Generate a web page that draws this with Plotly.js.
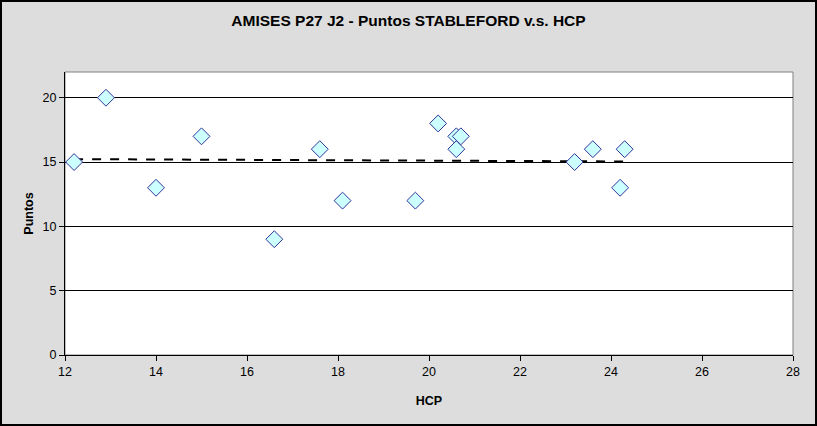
<!DOCTYPE html>
<html><head><meta charset="utf-8">
<script src="https://cdn.plot.ly/plotly-3.0.1.min.js"></script>
<style>
html,body{margin:0;padding:0;background:#dddddd;}
#wrap{width:817px;height:426px;box-sizing:border-box;border:2px solid #000;background:#dddddd;}
#chart{width:813px;height:422px;}
</style></head>
<body><div id="wrap"><div id="chart"></div></div>
<script>
const hcp = [12.2, 12.9, 14.0, 15.0, 16.6, 17.6, 18.1, 19.7, 20.2, 20.6, 20.7, 20.6, 23.2, 23.6, 24.2, 24.3];
const puntos = [15, 20, 13, 17, 9, 16, 12, 12, 18, 17, 17, 16, 15, 16, 13, 16];
const titleText = 'AMISES P27 J2 - Puntos STABLEFORD v.s. HCP';
const xTicks = [12, 14, 16, 18, 20, 22, 24, 26, 28];
const yTicks = [0, 5, 10, 15, 20];

// linear trendline (least squares)
const n = hcp.length;
const mx = hcp.reduce((a,b)=>a+b,0)/n, my = puntos.reduce((a,b)=>a+b,0)/n;
let sxy=0, sxx=0;
for (let i=0;i<n;i++){ sxy+=(hcp[i]-mx)*(puntos[i]-my); sxx+=(hcp[i]-mx)**2; }
const slope = sxy/sxx, icpt = my - slope*mx;
const xmin = Math.min(...hcp), xmax = Math.max(...hcp);
const trendX = [xmin, xmax], trendY = trendX.map(x=>icpt+slope*x);

const font = {family:'Liberation Sans, Arial, sans-serif', color:'#000'};
const data = [
  {x: trendX, y: trendY, mode:'lines', type:'scatter', line:{color:'#000', width:2, dash:'dash'}, hoverinfo:'skip'},
  {x: hcp, y: puntos, mode:'markers', type:'scatter',
   marker:{symbol:'diamond', size:13, color:'#ccffff', line:{color:'#333399', width:1}}}
];
const layout = {
  width: 813, height: 422,
  margin:{l:63, r:22, t:70, b:69},
  paper_bgcolor:'#dddddd', plot_bgcolor:'#ffffff',
  showlegend:false,
  font: Object.assign({size:12}, font),
  title:{text:'<b>'+titleText+'</b>', font:Object.assign({size:15.5}, font), x:0.5, xanchor:'center', y:0.955, yanchor:'middle'},
  xaxis:{range:[12,28], tickvals:xTicks, ticktext:xTicks.map(String), ticks:'outside', ticklen:5, tickcolor:'#000',
         showline:true, linecolor:'#000', linewidth:1, showgrid:false, zeroline:false,
         tickfont:Object.assign({size:12.5}, font),
         title:{text:'<b>HCP</b>', font:Object.assign({size:12.5}, font), standoff:18}},
  yaxis:{range:[0,22], tickvals:yTicks, ticktext:yTicks.map(String), ticks:'outside', ticklen:5, tickcolor:'#000',
         showline:true, linecolor:'#000', linewidth:1, showgrid:true, gridcolor:'#000', gridwidth:1, zeroline:false,
         tickfont:Object.assign({size:12.5}, font),
         title:{text:'<b>Puntos</b>', font:Object.assign({size:12.5}, font), standoff:6}},
  shapes:[{type:'rect', xref:'paper', yref:'paper', x0:0, x1:1, y0:0, y1:1, line:{color:'#808080', width:1}, layer:'below'}]
};
Plotly.newPlot('chart', data, layout, {displayModeBar:false, staticPlot:true});
</script></body></html>
